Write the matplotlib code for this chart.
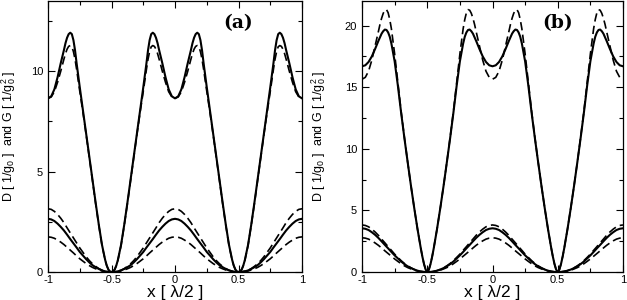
import numpy as np
import matplotlib
matplotlib.use("Agg")
from matplotlib import pyplot as plt
from matplotlib.ticker import MultipleLocator

plt.rcParams['font.family'] = ['Liberation Sans', 'DejaVu Sans']
plt.rcParams['mathtext.fontset'] = 'custom'
plt.rcParams['mathtext.rm'] = 'Liberation Sans'
plt.rcParams['mathtext.it'] = 'Liberation Sans'

# values read on half a period (x = 0 ... 0.5);
# the curves are even in x and repeat with period 1
x_top = [0.0, 0.025, 0.05, 0.075, 0.1, 0.125, 0.1375, 0.15, 0.1625, 0.175, 0.1875,
         0.2, 0.2125, 0.225, 0.25, 0.275, 0.3, 0.325, 0.35, 0.375, 0.4, 0.425,
         0.45, 0.4625, 0.475, 0.4875, 0.5]
x_low = [0.0, 0.025, 0.05, 0.075, 0.1, 0.125, 0.15, 0.175, 0.2, 0.225, 0.25,
         0.275, 0.3, 0.325, 0.35, 0.375, 0.4, 0.425, 0.45, 0.475, 0.5]

# panel (a)
a_top_solid = [8.65, 8.75, 9.1, 9.7, 10.4, 11.05, 11.4, 11.67, 11.85, 11.92, 11.85,
               11.55, 11.05, 10.4, 9.2, 8.05, 6.9, 5.75, 4.6, 3.45, 2.35, 1.35,
               0.6, 0.32, 0.13, 0.03, 0.0]
a_top_dash = [8.65, 8.72, 8.98, 9.45, 10.0, 10.6, 10.88, 11.1, 11.24, 11.28, 11.22,
              10.98, 10.6, 10.1, 9.0, 7.95, 6.85, 5.7, 4.55, 3.4, 2.32, 1.32,
              0.58, 0.31, 0.12, 0.03, 0.0]
a_low_solid = [2.65, 2.62, 2.54, 2.41, 2.25, 2.07, 1.86, 1.64, 1.43, 1.22, 1.0,
               0.82, 0.64, 0.48, 0.34, 0.24, 0.15, 0.08, 0.03, 0.01, 0.0]
a_low_dash_hi = [3.15, 3.12, 3.02, 2.87, 2.68, 2.46, 2.2, 1.95, 1.7, 1.45, 1.2,
                 0.98, 0.76, 0.57, 0.41, 0.28, 0.17, 0.09, 0.04, 0.01, 0.0]
a_low_dash_lo = [1.75, 1.73, 1.68, 1.59, 1.49, 1.37, 1.23, 1.09, 0.95, 0.8, 0.66,
                 0.54, 0.42, 0.32, 0.23, 0.16, 0.1, 0.05, 0.02, 0.005, 0.0]

# panel (b)
b_top_solid = [16.7, 16.78, 17.05, 17.5, 18.1, 18.75, 19.05, 19.35, 19.55, 19.68, 19.65,
               19.45, 19.1, 18.55, 17.1, 15.1, 12.9, 10.85, 8.9, 7.0, 5.2, 3.5,
               1.95, 1.25, 0.65, 0.2, 0.0]
b_top_dash = [15.65, 15.8, 16.3, 17.2, 18.35, 19.5, 20.1, 20.6, 21.0, 21.25, 21.3,
              21.05, 20.5, 19.75, 17.7, 15.35, 13.0, 10.9, 8.9, 7.0, 5.2, 3.5,
              1.95, 1.25, 0.65, 0.2, 0.0]
b_low_solid = [3.55, 3.51, 3.41, 3.23, 3.02, 2.77, 2.49, 2.2, 1.92, 1.63, 1.35,
               1.1, 0.85, 0.64, 0.46, 0.32, 0.2, 0.11, 0.04, 0.01, 0.0]
b_low_dash_hi = [3.82, 3.78, 3.67, 3.48, 3.25, 2.98, 2.67, 2.37, 2.06, 1.76, 1.45,
                 1.18, 0.92, 0.69, 0.5, 0.34, 0.21, 0.11, 0.05, 0.01, 0.0]
b_low_dash_lo = [2.78, 2.75, 2.67, 2.53, 2.36, 2.17, 1.95, 1.72, 1.5, 1.28, 1.06,
                 0.86, 0.67, 0.5, 0.36, 0.25, 0.15, 0.08, 0.03, 0.01, 0.0]


def unfold(xh, v):
    # half period -> x in [-1, 1] by the symmetry of the curves
    xh = np.asarray(xh, dtype=float)
    v = np.asarray(v, dtype=float)
    x1 = np.concatenate([xh, 1 - xh[-2::-1]])
    y1 = np.concatenate([v, v[-2::-1]])
    return np.concatenate([-x1[:0:-1], x1]), np.concatenate([y1[:0:-1], y1])


ylabel = r'D [ 1/g$_0$ ]  and G [ 1/g$_0^2$ ]'
dash = (0, (5, 2.6))

fig = plt.figure(figsize=(6.27, 3.0), dpi=100)
ax_a = fig.add_axes([0.0766, 0.0933, 0.4051, 0.9034])
ax_b = fig.add_axes([0.5774, 0.0933, 0.4162, 0.9034])

panels = [
    (ax_a, a_top_solid, a_top_dash, a_low_solid, a_low_dash_hi, a_low_dash_lo, 13.5, -0.118, '(a)'),
    (ax_b, b_top_solid, b_top_dash, b_low_solid, b_low_dash_hi, b_low_dash_lo, 22.0, -0.13, '(b)'),
]

for ax, ts, td, ls, ldh, ldl, ymax, lab_x, tag in panels:
    ax.plot(*unfold(x_top, ts), color='black', lw=1.5)
    ax.plot(*unfold(x_top, td), color='black', lw=1.2, linestyle=dash)
    ax.plot(*unfold(x_low, ls), color='black', lw=1.5)
    ax.plot(*unfold(x_low, ldh), color='black', lw=1.2, linestyle=dash)
    ax.plot(*unfold(x_low, ldl), color='black', lw=1.2, linestyle=dash)
    ax.set_xlim(-1, 1)
    ax.set_ylim(0, ymax)
    ax.xaxis.set_minor_locator(MultipleLocator(0.25))
    ax.yaxis.set_major_locator(MultipleLocator(5))
    ax.yaxis.set_minor_locator(MultipleLocator(2.5))
    ax.set_xticks([-1, -0.5, 0, 0.5, 1])
    ax.set_xticklabels(['-1', '-0.5', '0', '0.5', '1'])
    ax.tick_params(which='both', direction='in', top=True, right=True, labelsize=8,
                   width=0.8)
    ax.tick_params(axis='x', pad=2)
    ax.tick_params(axis='y', pad=3.5)
    ax.tick_params(which='major', length=5)
    ax.tick_params(which='minor', length=3)
    for s in ax.spines.values():
        s.set_linewidth(0.9)
    ax.set_xlabel('x [ λ/2 ]', fontsize=12.5, labelpad=0)
    ax.set_ylabel(ylabel, fontsize=9)
    ax.yaxis.set_label_coords(lab_x, 0.5)
    ax.text(0.75, 0.92, tag, transform=ax.transAxes, ha='center', va='center',
            fontsize=13.5, fontweight='bold', family=['DejaVu Serif'])

fig.savefig('out.png', dpi=100)
